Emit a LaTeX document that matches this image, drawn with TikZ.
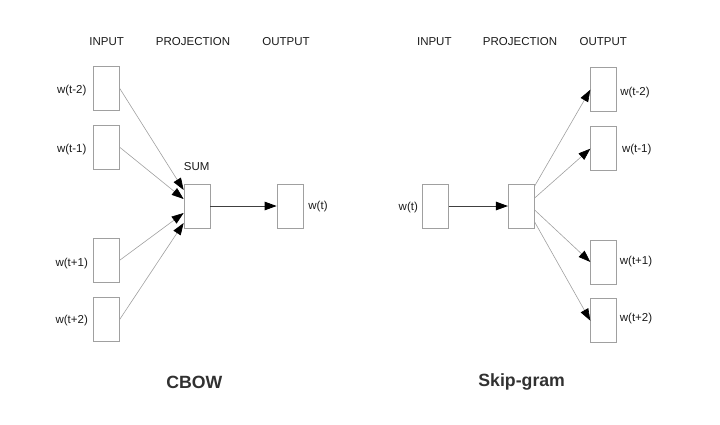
\documentclass[tikz,border=0pt]{standalone}
\usepackage{fontspec}
\setmainfont{Liberation Sans}
\usetikzlibrary{arrows.meta}
\definecolor{boxgray}{HTML}{A0A0A0}
\definecolor{linegray}{HTML}{A0A0A0}
\definecolor{txt}{HTML}{1A1A1A}
\tikzset{
  wbox/.style={draw=boxgray, line width=0.7pt, minimum width=26pt, minimum height=44pt, inner sep=0pt, fill=white},
  lbl/.style={font=\fontsize{11.5}{13}\selectfont, text=txt, inner sep=0pt},
  ttl/.style={font=\fontsize{17.7}{20}\selectfont\bfseries, text=txt!90!white, inner sep=0pt},
  tip/.style={-{Triangle[length=12pt,width=8.5pt,color=black]}},
  thinarr/.style={draw=linegray, line width=0.6pt, tip},
  mainarr/.style={draw=black!75, line width=0.9pt, tip}
}
\begin{document}
\begin{tikzpicture}[x=1pt,y=-1pt]
\useasboundingbox (0,0) rectangle (720,424);
% ---------- CBOW ----------
\node[lbl] (h1) at (106.7,41.7) {INPUT};
\node[lbl] (h2) at (193,41.7) {PROJECTION};
\node[lbl] (h3) at (286,41.7) {OUTPUT};
\node[wbox] (i1) at (106.3,88.3) {};
\node[wbox] (i2) at (106.3,147.2) {};
\node[wbox] (i3) at (106.3,260.3) {};
\node[wbox] (i4) at (106.3,319.5) {};
\node[lbl] (li1) at (71.7,91) {w(t-2)};
\node[lbl] (li2) at (71.7,149.3) {w(t-1)};
\node[lbl] (li3) at (71.7,263.5) {w(t+1)};
\node[lbl] (li4) at (71.7,321) {w(t+2)};
\node[wbox] (sum) at (197,206) {};
\node[lbl] (suml) at (196.7,166.7) {SUM};
\node[wbox] (out) at (290,206) {};
\node[lbl] (outl) at (318,206.5) {w(t)};
\draw[thinarr] (i1.east) -- ([yshift=16pt]sum.west);
\draw[thinarr] (i2.east) -- ([yshift=7pt]sum.west);
\draw[thinarr] (i3.east) -- ([yshift=-7pt]sum.west);
\draw[thinarr] (i4.east) -- ([yshift=-17pt]sum.west);
\draw[mainarr] (sum.east) -- (out.west);
\node[ttl] (cbow) at (194.3,382.3) {CBOW};
% ---------- Skip-gram ----------
\node[lbl] (g1) at (434.3,41.7) {INPUT};
\node[lbl] (g2) at (520,41.7) {PROJECTION};
\node[lbl] (g3) at (603.3,41.7) {OUTPUT};
\node[wbox] (in) at (435.3,206) {};
\node[lbl] (inl) at (408.3,207.7) {w(t)};
\node[wbox] (proj) at (521.3,206) {};
\node[wbox] (o1) at (603.7,89.7) {};
\node[wbox] (o2) at (603.7,148.7) {};
\node[wbox] (o3) at (603.7,262) {};
\node[wbox] (o4) at (603.7,320.7) {};
\node[lbl] (lo1) at (635,92.7) {w(t-2)};
\node[lbl] (lo2) at (636.7,149.3) {w(t-1)};
\node[lbl] (lo3) at (636,261.7) {w(t+1)};
\node[lbl] (lo4) at (636,319) {w(t+2)};
\draw[mainarr] (in.east) -- (proj.west);
\draw[thinarr] ([yshift=20pt]proj.east) -- (o1.west);
\draw[thinarr] ([yshift=8pt]proj.east) -- (o2.west);
\draw[thinarr] ([yshift=-4pt]proj.east) -- (o3.west);
\draw[thinarr] ([yshift=-16pt]proj.east) -- (o4.west);
\node[ttl] (sg) at (521.7,381.7) {Skip-gram};
\end{tikzpicture}
\end{document}
